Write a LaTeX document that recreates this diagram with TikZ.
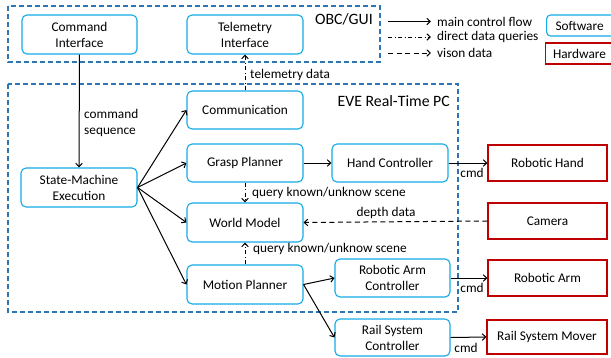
\documentclass[tikz,border=0pt]{standalone}
\usepackage{fontspec}
\setmainfont{Carlito}
\usetikzlibrary{arrows.meta}
\definecolor{swblue}{RGB}{20,170,230}
\definecolor{grpblue}{RGB}{46,117,182}
\definecolor{hwred}{RGB}{192,0,0}
\tikzset{
  base/.style={align=center, inner sep=1pt, font=\fontsize{13.3}{16}\selectfont},
  sw/.style={base, draw=swblue, line width=1.1pt, rounded corners=5pt, minimum width=#1},
  sw/.default=116pt,
  hw/.style={base, draw=hwred, line width=1.1pt, minimum width=119pt, minimum height=36pt},
  grp/.style={draw=grpblue, line width=1.1pt, dash pattern=on 5pt off 3pt},
  lbl/.style={font=\fontsize{13.3}{16}\selectfont, inner sep=1pt},
  grplbl/.style={font=\fontsize{15.8}{18}\selectfont, inner sep=1pt},
  tip/.style={-{Straight Barb[length=3.5pt,width=6.5pt,line width=1pt]}},
  flow/.style={tip, line width=1pt, black},
  query/.style={tip, line width=1pt, black, dash pattern=on 4pt off 2.5pt on 1pt off 2.5pt},
  vision/.style={tip, line width=1pt, black, dash pattern=on 5pt off 3.5pt},
}
\begin{document}
\begin{tikzpicture}[x=1pt,y=-1pt]
\useasboundingbox (0,0) rectangle (611,357);
% groups
\draw[grp] (8,6) rectangle (380,62);
\node[grplbl, anchor=east] (obclbl) at (374,19) {OBC/GUI};
\draw[grp] (8,84) rectangle (458,312);
\node[grplbl, anchor=east] (evelbl) at (451,101) {EVE Real-Time PC};
% software nodes
\node[sw=115pt, minimum height=39pt] (cmdI) at (79.5,34.5) {Command\\Interface};
\node[sw, minimum height=39pt] (telI) at (245,34.5) {Telemetry\\Interface};
\node[sw, minimum height=38pt] (comm) at (245,110) {Communication};
\node[sw, minimum height=38pt] (grasp) at (245,163) {Grasp Planner};
\node[sw, minimum height=39pt] (world) at (245,222.5) {World Model};
\node[sw, minimum height=39pt] (motion) at (245,284.5) {Motion Planner};
\node[sw, minimum height=39pt] (sm) at (79,187.5) {State-Machine\\Execution};
\node[sw, minimum height=38pt] (hand) at (390,163) {Hand Controller};
\node[sw=115pt, minimum height=38pt] (armC) at (392.5,278) {Robotic Arm\\Controller};
\node[sw=115pt, minimum height=37pt] (railC) at (392.5,337.5) {Rail System\\Controller};
% hardware nodes
\node[hw] (rhand) at (547.5,163) {Robotic Hand};
\node[hw] (cam) at (547.5,221) {Camera};
\node[hw] (rarm) at (547.5,278) {Robotic Arm};
\node[hw, minimum width=120pt, minimum height=34pt] (rmover) at (547,337) {Rail System Mover};
% legend
\node[sw=10pt, minimum height=21pt, rounded corners=4pt, anchor=west, text width=66pt, align=left, inner xsep=9pt] (legsw) at (546,25.5) {Software};
\node[hw, minimum width=10pt, minimum height=21pt, anchor=west, text width=66pt, align=left, inner xsep=7.5pt] (leghw) at (545,53.5) {Hardware};
\node[lbl, anchor=west] (legflow) at (436,21.5) {main control flow};
\node[lbl, anchor=west] (legquery) at (436,37) {direct data queries};
\node[lbl, anchor=west] (legvision) at (436,53) {vison data};
\coordinate (lf) at (388,21.5);
\coordinate (lq) at (388,37);
\coordinate (lv) at (388,53);
\draw[flow] (lf) -- ([xshift=-5pt]legflow.west);
\draw[query] (lq) -- ([xshift=-5pt]legquery.west);
\draw[vision] (lv) -- ([xshift=-5pt]legvision.west);
% connectors
\draw[flow] (cmdI.south) -- (sm.north);
\node[lbl, anchor=west, align=left] (cmdseq) at (83,123) {command\\sequence};
\draw[query] (comm.north) -- (telI.south);
\node[lbl, anchor=west] (teldata) at (249,75) {telemetry data};
\draw[flow] (sm.east) -- (comm.west);
\draw[flow] (sm.east) -- (grasp.west);
\draw[flow] (sm.east) -- (world.west);
\draw[flow] (sm.east) -- (motion.west);
\draw[query] (grasp.south) -- (world.north);
\node[lbl, anchor=west] (q1) at (251,193) {query known/unknow scene};
\draw[query] (motion.north) -- (world.south);
\node[lbl, anchor=west] (q2) at (252,249) {query known/unknow scene};
\draw[flow] (grasp.east) -- (hand.west);
\draw[flow] (hand.east) -- (rhand.west);
\node[lbl] (cmd1) at (472,173) {cmd};
\draw[vision] (cam.west) -- (world.east);
\node[lbl] (depth) at (386,213) {depth data};
\draw[flow] (motion.east) -- (armC.west);
\draw[flow] (motion.east) -- (railC.west);
\draw[flow] (armC.east) -- (rarm.west);
\node[lbl] (cmd2) at (472,288) {cmd};
\draw[flow] (railC.east) -- (rmover.west);
\node[lbl] (cmd3) at (466,348) {cmd};
\end{tikzpicture}
\end{document}
